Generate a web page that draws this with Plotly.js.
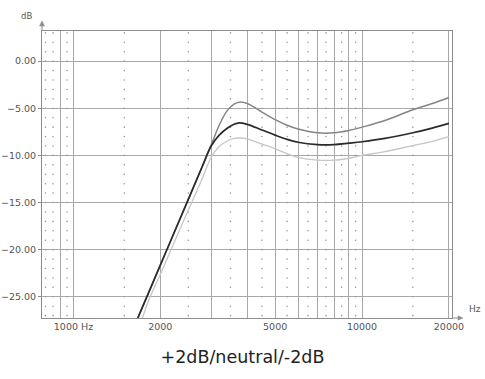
<!DOCTYPE html>
<html>
<head>
<meta charset="utf-8">
<script src="https://cdn.plot.ly/plotly-3.0.1.min.js"></script>
<style>
  html, body { margin: 0; padding: 0; background: #ffffff; }
  #chart { width: 485px; height: 379px; }
</style>
</head>
<body>
<div id="chart"></div>
<script>
// Frequency response of the tweeter level setting (Hz vs dB)
const freqHz = [1650, 1800, 2000, 2200, 2500, 2800, 3000, 3200, 3400, 3600, 3750, 4000,
                4500, 5000, 5500, 6000, 7000, 8000, 9000, 10000, 12000, 15000, 17500, 20000];

const plus2dB = [-27.65, -24.93, -21.64, -18.66, -14.66, -11.1, -8.9, -6.8, -5.3, -4.55, -4.35, -4.5,
                 -5.4, -6.2, -6.8, -7.2, -7.6, -7.6, -7.35, -7.0, -6.3, -5.15, -4.5, -3.85];

const neutral = [-27.65, -24.93, -21.64, -18.66, -14.66, -11.12, -9.0, -7.85, -7.15, -6.7, -6.55, -6.7,
                 -7.3, -7.85, -8.3, -8.6, -8.85, -8.85, -8.7, -8.55, -8.2, -7.6, -7.1, -6.6];

const minus2dB = [-29.5, -25.8, -22.6, -19.7, -15.8, -12.4, -10.2, -9.05, -8.5, -8.2, -8.15, -8.25,
                  -8.8, -9.3, -9.8, -10.2, -10.5, -10.5, -10.3, -10.0, -9.6, -8.95, -8.5, -8.0];

// Axis ticks / grid
const majorFreqs = [900, 1000, 2000, 3000, 4000, 5000, 6000, 7000, 8000, 9000, 10000, 20000];
const majorLabels = ['', '1000 Hz', '2000', '', '', '5000', '', '', '', '', '10000', '20000'];
const minorFreqs = [800, 850, 950, 1500, 2500, 3500, 4500, 5500, 6500, 7500, 8500, 9500, 15000];
const dbTicks = [0, -5, -10, -15, -20, -25];
const dbSteps = [3, 2, 1, 0, -1, -2, -3, -4, -5, -6, -7, -8, -9, -10, -11, -12, -13, -14,
                 -15, -16, -17, -18, -19, -20, -21, -22, -23, -24, -25, -26, -27];

// dotted minor grid: one dot per dB on each minor frequency line
const dotX = [], dotY = [];
minorFreqs.forEach(f => dbSteps.forEach(d => { dotX.push(f); dotY.push(d); }));

const traces = [
  {
    x: dotX, y: dotY, type: 'scatter', mode: 'markers',
    marker: { size: 1.6, color: '#9a9a9a' },
    hoverinfo: 'skip', showlegend: false
  },
  {
    x: freqHz, y: minus2dB, type: 'scatter', mode: 'lines', name: '-2dB',
    line: { color: '#c6c6c6', width: 1.3, shape: 'spline', smoothing: 1 }
  },
  {
    x: freqHz, y: plus2dB, type: 'scatter', mode: 'lines', name: '+2dB',
    line: { color: '#858585', width: 1.5, shape: 'spline', smoothing: 1 }
  },
  {
    x: freqHz, y: neutral, type: 'scatter', mode: 'lines', name: 'neutral',
    line: { color: '#2b2b2b', width: 1.7, shape: 'spline', smoothing: 1 }
  }
];

const tickFont = { family: 'DejaVu Sans, sans-serif', size: 9.5, color: '#555555' };

const layout = {
  width: 485, height: 379,
  margin: { l: 42, r: 33, t: 31, b: 61 },
  paper_bgcolor: '#ffffff', plot_bgcolor: '#ffffff',
  showlegend: false,
  title: {
    text: '+2dB/neutral/-2dB',
    font: { family: 'DejaVu Sans, sans-serif', size: 17.5, color: '#222222' },
    x: 0.5, xref: 'container', xanchor: 'center',
    y: 1 - 357 / 379, yref: 'container', yanchor: 'middle'
  },
  xaxis: {
    type: 'log',
    range: [Math.log10(778), Math.log10(20500)],
    tickmode: 'array', tickvals: majorFreqs, ticktext: majorLabels,
    showgrid: true, gridcolor: '#a8a8a8', gridwidth: 1,
    showline: true, linecolor: '#8c8c8c', linewidth: 1, mirror: true,
    ticks: '', tickfont: tickFont, zeroline: false,
    fixedrange: true
  },
  yaxis: {
    range: [-27.25, 3.2],
    tickmode: 'array', tickvals: dbTicks,
    tickformat: '.2f',
    showgrid: true, gridcolor: '#a8a8a8', gridwidth: 1,
    showline: true, linecolor: '#8c8c8c', linewidth: 1, mirror: true,
    ticks: 'outside', ticklen: 3, tickcolor: '#8c8c8c',
    tickfont: tickFont, zeroline: false,
    fixedrange: true
  },
  shapes: [
    // y-axis extension with arrow head
    { type: 'line', xref: 'paper', yref: 'paper', x0: 0, x1: 0, y0: 1, y1: 1.0174,
      line: { color: '#8c8c8c', width: 1 } },
    { type: 'path', xref: 'paper', yref: 'paper',
      path: 'M -0.0061 1.0174 L 0.0061 1.0174 L 0 1.0348 Z',
      fillcolor: '#8c8c8c', line: { color: '#8c8c8c', width: 0.5 } },
    // x-axis extension with arrow head
    { type: 'line', xref: 'paper', yref: 'paper', x0: 1, x1: 1.0146, y0: 0, y1: 0,
      line: { color: '#8c8c8c', width: 1 } },
    { type: 'path', xref: 'paper', yref: 'paper',
      path: 'M 1.0146 0.0075 L 1.0146 -0.0075 L 1.0268 0 Z',
      fillcolor: '#8c8c8c', line: { color: '#8c8c8c', width: 0.5 } }
  ],
  annotations: [
    { text: 'dB', xref: 'paper', yref: 'paper', x: -0.0195, y: 1.052,
      xanchor: 'right', yanchor: 'middle', showarrow: false,
      font: { family: 'DejaVu Sans, sans-serif', size: 8.5, color: '#555555' } },
    { text: 'Hz', xref: 'paper', yref: 'paper', x: 1.036, y: 0.031,
      xanchor: 'left', yanchor: 'middle', showarrow: false,
      font: { family: 'DejaVu Sans, sans-serif', size: 9, color: '#555555' } }
  ]
};

Plotly.newPlot('chart', traces, layout, { staticPlot: true, displayModeBar: false });
</script>
</body>
</html>
